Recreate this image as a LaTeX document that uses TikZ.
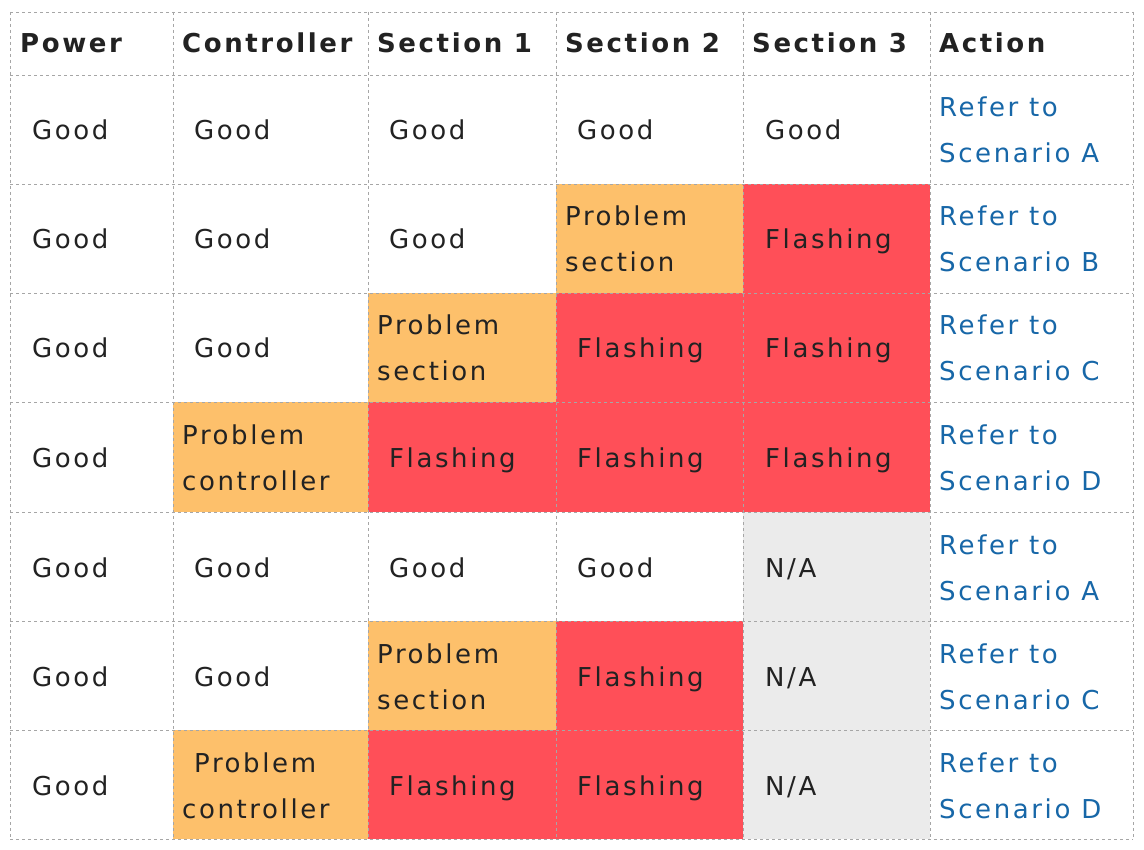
\documentclass[tikz,border=0pt]{standalone}
\usepackage{fontspec}
\setmainfont{DejaVu Sans}[LetterSpace=10]
\begin{document}
\definecolor{org}{HTML}{FDC06B}
\definecolor{rd}{HTML}{FF4F58}
\definecolor{gr}{HTML}{EBEBEB}
\definecolor{lnk}{HTML}{1767A8}
\definecolor{txt}{HTML}{222222}
\begin{tikzpicture}[x=1pt,y=-1pt,
  t/.style={anchor=base west,inner sep=0pt,font=\fontsize{26}{46}\selectfont,text=txt},
  h/.style={t,font=\fontsize{26}{46}\selectfont\bfseries},
  l/.style={t,text=lnk}]
\useasboundingbox (0,0) rectangle (1144,850);
\fill[white] (0,0) rectangle (1144,850);
\fill[org] (556,184) rectangle (743,293);
\fill[rd] (743,184) rectangle (930,293);
\fill[org] (368,293) rectangle (556,402);
\fill[rd] (556,293) rectangle (930,402);
\fill[org] (173,402) rectangle (368,512);
\fill[rd] (368,402) rectangle (930,512);
\fill[gr] (743,512) rectangle (930,839);
\fill[org] (368,621) rectangle (556,730);
\fill[rd] (556,621) rectangle (743,730);
\fill[org] (173,730) rectangle (368,839);
\fill[rd] (368,730) rectangle (743,839);
\foreach \x in {10,173,368,556,743,930,1133} \draw[gray!70,dashed,line width=0.6pt] (\x,12) -- (\x,839);
\foreach \y in {12,75,184,293,402,512,621,730,839} \draw[gray!70,dashed,line width=0.6pt] (10,\y) -- (1133,\y);
% header
\node[h] (h1) at (20,53) {Power};
\node[h] (h2) at (182,53) {Controller};
\node[h] (h3) at (377,53) {Section 1};
\node[h] (h4) at (565,53) {Section 2};
\node[h] (h5) at (752,53) {Section 3};
\node[h] (h6) at (939,53) {Action};
\foreach \r/\top in {1/75,2/184,3/293,4/402,5/512,6/621,7/730}{
  \node[t] (p\r) at (32,\top+65) {Good};
}
\foreach \r/\top in {1/75,2/184,3/293,5/512,6/621}{
  \node[t] (c\r) at (194,\top+65) {Good};
}
\node[t] (c4) at (182,444) {Problem};
\node[t] (c4b) at (182,490) {controller};
\node[t] (c7) at (194,772) {Problem};
\node[t] (c7b) at (182,818) {controller};
% section 1
\node[t] (s11) at (389,140) {Good};
\node[t] (s12) at (389,249) {Good};
\node[t] (s13) at (377,335) {Problem};
\node[t] (s13b) at (377,381) {section};
\node[t] (s14) at (389,467) {Flashing};
\node[t] (s15) at (389,577) {Good};
\node[t] (s16) at (377,663) {Problem};
\node[t] (s16b) at (377,709) {section};
\node[t] (s17) at (389,795) {Flashing};
% section 2
\node[t] (s21) at (577,140) {Good};
\node[t] (s22) at (565,226) {Problem};
\node[t] (s22b) at (565,272) {section};
\node[t] (s23) at (577,358) {Flashing};
\node[t] (s24) at (577,467) {Flashing};
\node[t] (s25) at (577,577) {Good};
\node[t] (s26) at (577,686) {Flashing};
\node[t] (s27) at (577,795) {Flashing};
% section 3
\node[t] (s31) at (765,140) {Good};
\node[t] (s32) at (765,249) {Flashing};
\node[t] (s33) at (765,358) {Flashing};
\node[t] (s34) at (765,467) {Flashing};
\node[t] (s35) at (765,577) {N/A};
\node[t] (s36) at (765,686) {N/A};
\node[t] (s37) at (765,795) {N/A};
% action
\foreach \r/\top/\s in {1/75/A,2/184/B,3/293/C,4/402/D,5/512/A,6/621/C,7/730/D}{
  \node[l] (a\r) at (939,\top+42) {Refer to};
  \node[l] (b\r) at (939,\top+88) {Scenario \s};
}
\end{tikzpicture}
\end{document}
